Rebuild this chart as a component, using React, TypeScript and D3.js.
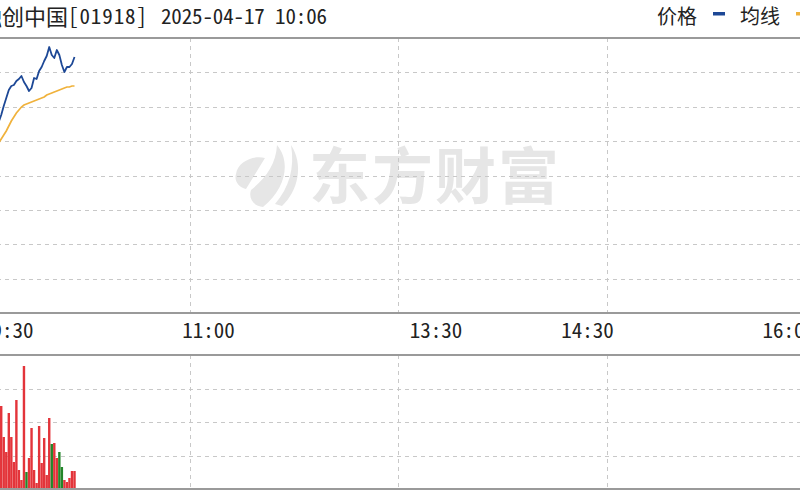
import * as React from "react";
import * as d3 from "d3";

const width: number = 800;
const height: number = 500;

const titleName: string = "融创中国";
const titleCode: string = "[01918]";
const titleTime: string = "2025-04-17 10:06";
const legendLabels: string[] = ["价格", "均线"];
const legendColors: string[] = ["#1d4896", "#f0b23c"];
const watermarkText: string = "东方财富";

// trading minutes since 09:30 (lunch break removed), 330 = 16:00
const timeLabels: string[] = ["09:30", "11:00", "13:30", "14:30", "16:00"];
const timeLabelMinutes: number[] = [0, 90, 180, 240, 330];
const sessionMinutes: number = 330;

// one value per minute, starting 09:30
const prices: number[] = [
    1.478, 1.483, 1.493, 1.495, 1.503, 1.508, 1.515, 1.521, 1.528, 1.537,
    1.545, 1.553, 1.557, 1.558, 1.562, 1.564, 1.567, 1.561, 1.557, 1.552,
    1.555, 1.565, 1.564, 1.572, 1.576, 1.582, 1.587, 1.596, 1.588, 1.585,
    1.593, 1.588, 1.578, 1.571, 1.576, 1.576, 1.579, 1.586
];
const averages: number[] = [
    1.478, 1.480, 1.483, 1.486, 1.490, 1.493, 1.497, 1.500, 1.504, 1.508,
    1.512, 1.517, 1.522, 1.526, 1.530, 1.533, 1.536, 1.538, 1.539, 1.540,
    1.541, 1.542, 1.543, 1.544, 1.545, 1.546, 1.548, 1.549, 1.550, 1.551,
    1.552, 1.553, 1.554, 1.555, 1.556, 1.556, 1.557, 1.557
];
// thousand shares
const volumes: number[] = [
    9800, 4200, 3100, 2600, 2900, 2200, 1900, 2400, 2490, 1560,
    1110, 2280, 1560, 810, 2670, 570, 270, 3690, 510, 930,
    1830, 570, 180, 1890, 780, 1530, 420, 2130, 1350, 1380,
    930, 1110, 660, 270, 210, 330, 540, 540
];
const volumeSides: string[] = [
    "u", "u", "u", "d", "u", "u", "u", "u", "u", "u",
    "u", "u", "u", "u", "u", "u", "u", "u", "d", "u",
    "u", "u", "u", "u", "u", "u", "u", "u", "d", "u",
    "u", "d", "d", "u", "u", "u", "u", "u"
];

const priceDomain: [number, number] = [1.330, 1.605];
const volumeMax: number = 4020;

const fontMono: string = "'Noto Sans Mono CJK SC', 'DejaVu Sans Mono', monospace";
const fontCjk: string = "'Noto Sans CJK SC', sans-serif";
const gridColor: string = "#c8c8c8";
const borderColor: string = "#9a9a9a";
const upColor: string = "#e3343a";
const downColor: string = "#23862a";

type Box = { top: number; bottom: number; };

const pricePanel: Box = { top: 38, bottom: 313 };
const volumePanel: Box = { top: 355, bottom: 489 };

const App = (): JSX.Element => {
    const ref: React.RefObject<SVGSVGElement> = React.useRef<SVGSVGElement>(null);

    React.useEffect((): void => {
        const svg: d3.Selection<SVGSVGElement, unknown, null, undefined> = d3.select(ref.current);
        svg.selectAll("*").remove();

        const x: d3.ScaleLinear<number, number> = d3.scaleLinear()
            .domain([0, sessionMinutes])
            .range([-19, 815]);
        const y: d3.ScaleLinear<number, number> = d3.scaleLinear()
            .domain(priceDomain)
            .range([pricePanel.bottom, pricePanel.top]);
        const yVol: d3.ScaleLinear<number, number> = d3.scaleLinear()
            .domain([0, volumeMax])
            .range([volumePanel.bottom, volumePanel.top]);

        svg.append("rect").attr("width", width).attr("height", height).attr("fill", "white");

        // watermark
        const wm: d3.Selection<SVGGElement, unknown, null, undefined> = svg.append("g").attr("fill", "#e6e6e6");
        wm.append("path").attr("d", "M236,174 C238,161 254,155 265,158 C259,168 252,179 246,189 C238,187 234,180 236,174 Z");
        wm.append("path").attr("d", "M277,145 C291,162 286,188 263,207 C254,206 248,199 251,190 C266,178 276,164 277,145 Z");
        wm.append("path").attr("d", "M291,145 C304,165 298,191 282,206 L275,204 C289,188 295,168 291,145 Z");
        wm.append("text")
            .attr("x", 309)
            .attr("y", 199)
            .attr("font-family", fontCjk)
            .attr("font-weight", 700)
            .attr("font-size", 61)
            .attr("letter-spacing", 2)
            .text(watermarkText);

        // gridlines
        const grid: d3.Selection<SVGGElement, unknown, null, undefined> = svg.append("g")
            .attr("stroke", gridColor)
            .attr("stroke-width", 1)
            .attr("stroke-dasharray", "4,4");
        const priceStep: number = (priceDomain[1] - priceDomain[0]) / 8;
        grid.selectAll(".hp")
            .data(d3.range(1, 8).map((i: number) => priceDomain[0] + i * priceStep))
            .enter().append("line")
            .attr("x1", x(0)).attr("x2", x(sessionMinutes))
            .attr("y1", (d: number) => Math.round(y(d)) + 0.5)
            .attr("y2", (d: number) => Math.round(y(d)) + 0.5);
        grid.selectAll(".hv")
            .data(d3.range(1, 4).map((i: number) => volumeMax * i / 4))
            .enter().append("line")
            .attr("x1", x(0)).attr("x2", x(sessionMinutes))
            .attr("y1", (d: number) => Math.round(yVol(d)) + 0.5)
            .attr("y2", (d: number) => Math.round(yVol(d)) + 0.5);
        const quarters: number[] = d3.range(1, 4).map((i: number) => sessionMinutes * i / 4);
        [pricePanel, volumePanel].forEach((p: Box) => {
            grid.append("g").selectAll("line")
                .data(quarters)
                .enter().append("line")
                .attr("x1", (d: number) => Math.round(x(d)) + 0.5)
                .attr("x2", (d: number) => Math.round(x(d)) + 0.5)
                .attr("y1", p.top).attr("y2", p.bottom);
        });

        // volume bars
        svg.append("g").selectAll("rect")
            .data(volumes)
            .enter().append("rect")
            .attr("x", (d: number, i: number) => x(i) - 1.2)
            .attr("width", 2.4)
            .attr("y", (d: number) => yVol(Math.min(d, volumeMax)))
            .attr("height", (d: number) => volumePanel.bottom - yVol(Math.min(d, volumeMax)))
            .attr("fill", (d: number, i: number) => volumeSides[i] === "u" ? upColor : downColor);

        // price + average lines
        const line: d3.Line<number> = d3.line<number>()
            .x((d: number, i: number) => x(i))
            .y((d: number) => y(d));
        svg.append("path")
            .datum(averages)
            .attr("d", line)
            .attr("fill", "none")
            .attr("stroke", legendColors[1])
            .attr("stroke-width", 1.7);
        svg.append("path")
            .datum(prices)
            .attr("d", line)
            .attr("fill", "none")
            .attr("stroke", legendColors[0])
            .attr("stroke-width", 1.8)
            .attr("stroke-linejoin", "round");

        // panel borders
        const borders: d3.Selection<SVGGElement, unknown, null, undefined> = svg.append("g")
            .attr("fill", "none")
            .attr("stroke", borderColor)
            .attr("stroke-width", 2);
        [pricePanel, volumePanel].forEach((p: Box) => {
            borders.append("rect")
                .attr("x", x(0))
                .attr("y", p.top)
                .attr("width", x(sessionMinutes) - x(0))
                .attr("height", p.bottom - p.top);
        });

        // time labels
        svg.append("g").selectAll("text")
            .data(timeLabels)
            .enter().append("text")
            .attr("x", (d: string, i: number) => x(timeLabelMinutes[i]))
            .attr("y", 337.5)
            .attr("text-anchor", (d: string, i: number) =>
                i === 0 ? "start" : (i === timeLabels.length - 1 ? "end" : "middle"))
            .attr("font-family", fontMono)
            .attr("font-size", 21)
            .attr("fill", "#222")
            .text((d: string) => d);

        // title, stock name is cut by the left edge
        const title: d3.Selection<SVGGElement, unknown, null, undefined> = svg.append("g")
            .attr("font-family", fontMono)
            .attr("font-size", 21)
            .attr("fill", "#222");
        title.append("text")
            .attr("x", 68)
            .attr("y", 24.5)
            .attr("text-anchor", "end")
            .attr("font-size", 22)
            .text(titleName);
        title.append("text")
            .attr("x", 68)
            .attr("y", 24)
            .attr("textLength", 79)
            .attr("lengthAdjust", "spacing")
            .text(titleCode);
        title.append("text")
            .attr("x", 161)
            .attr("y", 24)
            .attr("textLength", 166)
            .attr("lengthAdjust", "spacing")
            .text(titleTime);

        // legend
        const legend: d3.Selection<SVGGElement, unknown, null, undefined> = svg.append("g")
            .attr("font-family", fontCjk)
            .attr("font-size", 20)
            .attr("fill", "#222");
        const legendX: number[] = [657, 740];
        legendLabels.forEach((label: string, i: number) => {
            legend.append("text")
                .attr("x", legendX[i])
                .attr("y", 24)
                .text(label);
            legend.append("rect")
                .attr("x", legendX[i] + 56)
                .attr("y", 12)
                .attr("width", 12)
                .attr("height", 3.5)
                .attr("fill", legendColors[i]);
        });
    }, []);

    return <div>
        <style>{"body{margin:0}"}</style>
        <svg ref={ref} width={width} height={height} style={{ display: "block" }} />
    </div>;
};

export default App;
